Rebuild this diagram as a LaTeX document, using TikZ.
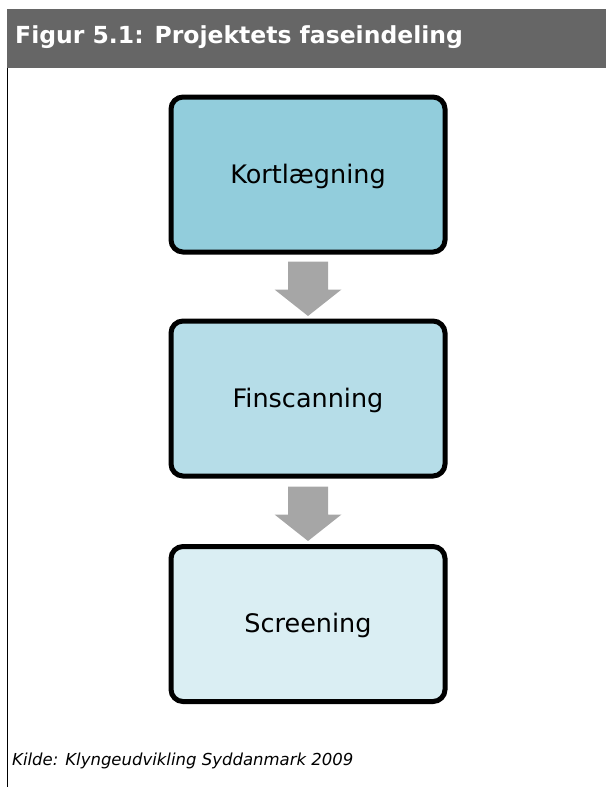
\documentclass[tikz,border=0pt]{standalone}
\usepackage{fontspec}
\setmainfont{DejaVu Sans}
\usetikzlibrary{calc}
\definecolor{hdr}{HTML}{666666}
\definecolor{boxA}{HTML}{92CDDC}
\definecolor{boxB}{HTML}{B6DDE8}
\definecolor{boxC}{HTML}{DAEEF3}
\definecolor{arrgray}{HTML}{A6A6A6}
\tikzset{
  phase/.style={draw=black, line width=5pt, rounded corners=12pt,
    minimum width=274pt, minimum height=155pt, inner sep=0pt,
    text height=17pt, text depth=0pt,
    font=\fontsize{25.5}{30}\selectfont},
  blockarrow/.style={fill=arrgray, draw=none},
}
\begin{document}
\begin{tikzpicture}[x=1pt,y=1pt]
\useasboundingbox (0,0) rectangle (606,-787);
% header bar
\fill[hdr] (7,-9) rectangle (606,-68);
\node[anchor=base west, inner sep=0pt, text=white,
  font=\fontsize{23.5}{28}\bfseries] (title) at (15,-43)
  {Figur 5.1: Projektets faseindeling};
% left frame line
\draw[line width=1pt] (7.5,-68) -- (7.5,-787);
% phase boxes
\node[phase, fill=boxA] (k) at (308,-174.5) {Kortlægning};
\node[phase, fill=boxB] (f) at (308,-398.5) {Finscanning};
\node[phase, fill=boxC] (s) at (308,-624) {Screening};
% block arrows
\fill[blockarrow] ([yshift=-7pt]k.south) ++(-20,0) -- ++(40,0) -- ++(0,-28)
  -- ++(13.5,0) -- ++(-33.5,-26.5) -- ++(-33.5,26.5) -- ++(13.5,0) -- cycle;
\fill[blockarrow] ([yshift=-8pt]f.south) ++(-20,0) -- ++(40,0) -- ++(0,-28)
  -- ++(13.5,0) -- ++(-33.5,-26.5) -- ++(-33.5,26.5) -- ++(13.5,0) -- cycle;
% source
\node[anchor=base west, inner sep=0pt, font=\fontsize{16.5}{19}\itshape]
  (src) at (12,-765) {Kilde: Klyngeudvikling Syddanmark 2009};
\end{tikzpicture}
\end{document}
